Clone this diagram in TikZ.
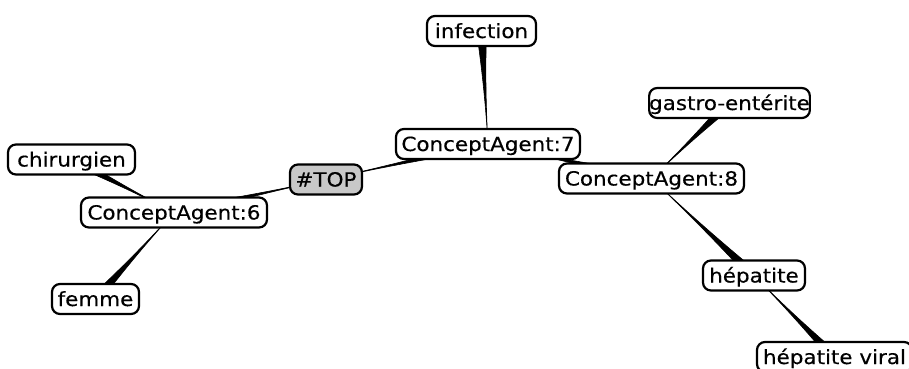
\documentclass[tikz,border=0pt]{standalone}
\usepackage{fontspec}
\newfontfamily\nodefont[FakeStretch=1.1,FakeBold=0.4]{DejaVu Sans}
\usetikzlibrary{calc}
\pgfdeclarelayer{paper}
\pgfdeclarelayer{bg}
\pgfsetlayers{paper,bg,main}
% quadratic taper: thin at parent #1, wide at child #2
\newcommand\taper[2]{%
  \filldraw[black, line width=0.6bp, line join=round]
    (#1.center)
    .. controls ($(#1.center)!0.3333!(#2.center)$)
       and ($($(#1.center)!0.6667!(#2.center)$)!1.667bp!90:(#2.center)$) ..
    ($(#2.center)!5bp!-90:(#1.center)$)
    -- ($(#2.center)!5bp!90:(#1.center)$)
    .. controls ($($(#1.center)!0.6667!(#2.center)$)!1.667bp!-90:(#2.center)$)
       and ($(#1.center)!0.3333!(#2.center)$) ..
    (#1.center) -- cycle;}
\definecolor{topgray}{RGB}{200,200,200}
\tikzset{
  cnode/.style={draw=black, line width=2.2bp, rounded corners=8bp, fill=white,
    minimum height=30bp, inner sep=0pt, text height=14bp, text depth=0bp,
    font=\nodefont\fontsize{19.5bp}{22bp}\selectfont},
  topnode/.style={cnode, fill=topgray}
}
\begin{document}
\begin{tikzpicture}[x=1bp,y=-1bp]
\begin{pgfonlayer}{paper}
\fill[white] (0,0) rectangle (909,368);
\end{pgfonlayer}
\useasboundingbox (0,0) rectangle (909,368);
\node[topnode, minimum width=72bp] (top) at (326,179.5) {\#TOP};
\node[cnode, minimum width=186bp] (ca6) at (174,212.5) {ConceptAgent:6};
\node[cnode, minimum width=184bp] (ca7) at (488,144) {ConceptAgent:7};
\node[cnode, minimum width=185bp] (ca8) at (651.5,178.5) {ConceptAgent:8};
\node[cnode, minimum width=127bp] (chir) at (71.5,159.5) {chirurgien};
\node[cnode, minimum width=87bp] (femme) at (95.5,299) {femme};
\node[cnode, minimum width=109bp] (inf) at (481.5,31) {infection};
\node[cnode, minimum width=149bp] (gastro) at (729.5,103) {gastro-entérite};
\node[cnode, minimum width=102bp] (hep) at (754,275.5) {hépatite};
\node[cnode, minimum width=155bp] (hepv) at (834.5,357) {hépatite viral};
\begin{pgfonlayer}{bg}
\taper{top}{ca6}
\taper{top}{ca7}
\taper{ca6}{chir}
\taper{ca6}{femme}
\taper{ca7}{inf}
\taper{ca7}{ca8}
\taper{ca8}{gastro}
\taper{ca8}{hep}
\taper{hep}{hepv}
\end{pgfonlayer}
\end{tikzpicture}
\end{document}
